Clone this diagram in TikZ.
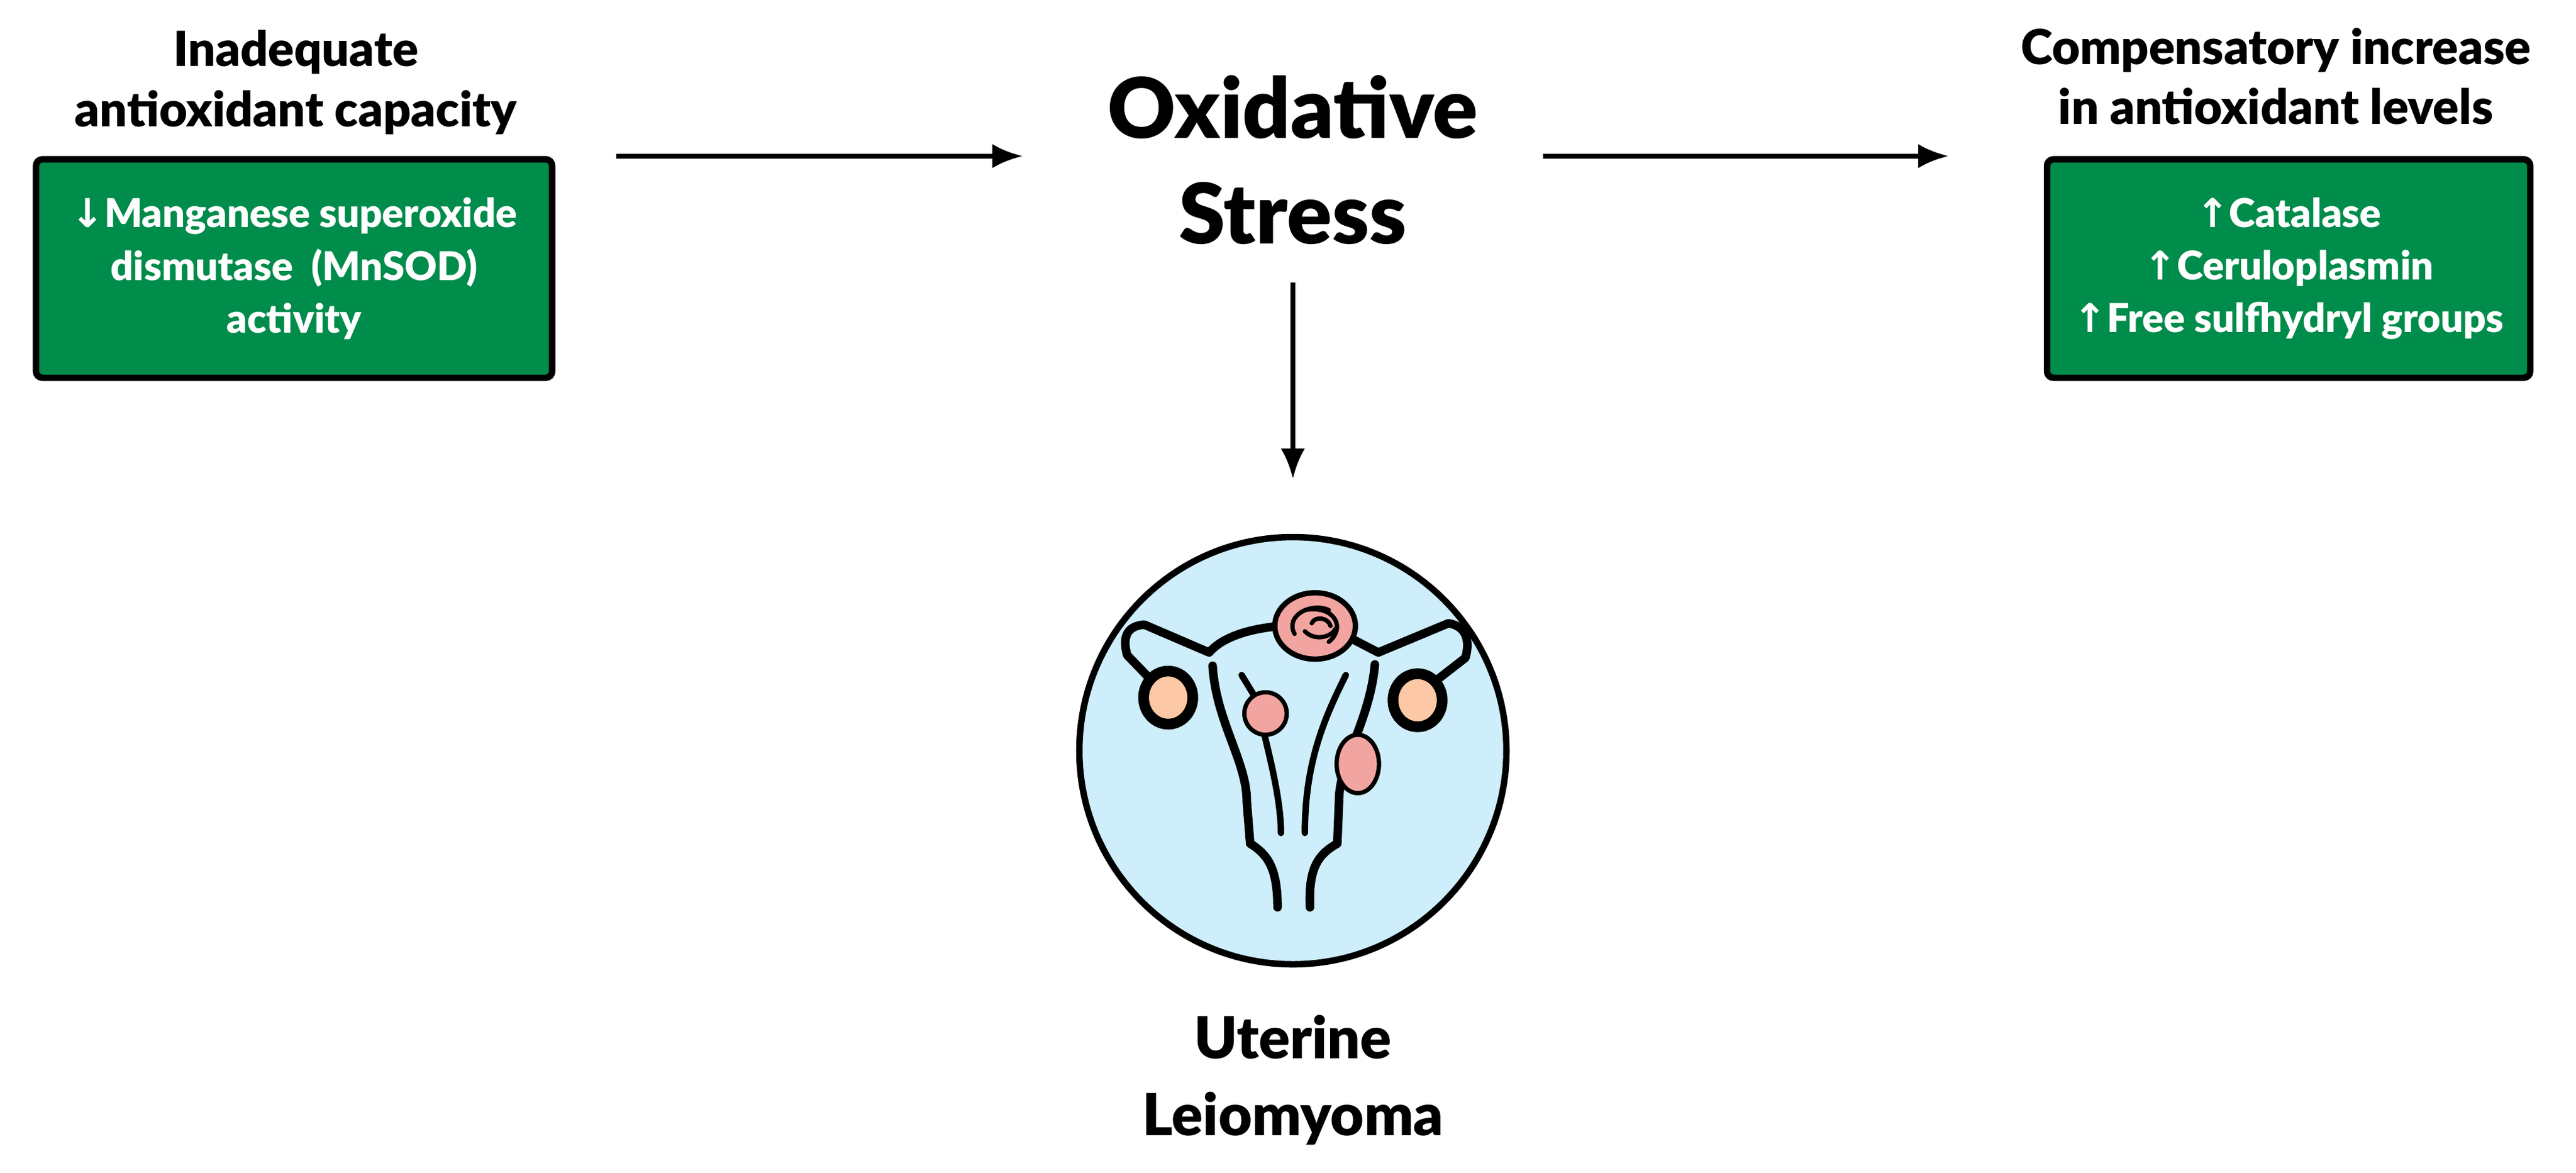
\documentclass[tikz,border=0pt]{standalone}
\usepackage{fontspec}
\setmainfont{Lato}[BoldFont={Lato Black}]
\newfontfamily\arrowfont{DejaVu Sans}
\newcommand{\dnarrow}{{\arrowfont\bfseries ↓}}
\newcommand{\uparr}{{\arrowfont\bfseries ↑}}
\usetikzlibrary{arrows.meta, positioning, calc}
\definecolor{boxGreen}{RGB}{0,140,75}
\definecolor{circleBlue}{RGB}{205,238,250}
\definecolor{fibroidPink}{RGB}{242,165,160}
\definecolor{ovaryPeach}{RGB}{252,200,165}

\begin{document}
\begin{tikzpicture}[
    x=1cm, y=1cm,
    heading/.style={font=\fontsize{22.5}{28}\selectfont\bfseries, align=center, text=black},
    greenbox/.style={draw=black, line width=3pt, fill=boxGreen, rounded corners=3pt, text=white, align=center,
        font=\fontsize{18.5}{24.5}\selectfont\bfseries, minimum width=8.46cm, minimum height=3.58cm},
    bigtitle/.style={font=\fontsize{39}{49}\selectfont\bfseries, align=center},
    flow/.style={-{Latex[length=0.5cm, width=0.4cm]}, line width=2.2pt},
    organ/.style={line width=4pt, line cap=round, line join=round},
    >=latex
]
\useasboundingbox (0,0) rectangle (42.22,-19.21);

% Left side: cause
\node[heading] (lhead) at (4.85,-1.35) {Inadequate\\antioxidant capacity};
\node[greenbox] (lbox) at (4.82,-4.4) {\dnarrow Manganese superoxide\\dismutase~~(MnSOD)\\activity};

% Centre
\node[bigtitle] (ox) at (21.19,-2.62) {Oxidative\\Stress};

% Right side: response
\node[heading] (rhead) at (37.3,-1.25) {Compensatory increase\\in antioxidant levels};
\node[greenbox, minimum width=7.92cm] (rbox) at (37.51,-4.4) {\uparr Catalase\\\uparr Ceruloplasmin\\\uparr Free sulfhydryl groups};

% Uterus badge
\node[circle, draw=black, line width=3pt, fill=circleBlue, minimum size=7cm] (ut) at (21.19,-12.3) {};
\node[heading, font=\fontsize{27}{36}\selectfont\bfseries, below=0.65cm of ut] (utlabel) {Uterine\\Leiomyoma};

\begin{scope}[shift={(ut.center)}, x=0.0056cm, y=-0.00435cm, shift={(-725,-910)}]
  % horns and tubes
  \draw[organ] (690,440) .. controls (600,450) and (520,480) .. (480,540)
      -- (290,435) .. controls (240,440) and (225,480) .. (240,550) -- (300,630);
  \draw[organ] (900,490) -- (975,540) -- (1180,430) .. controls (1230,440) and (1245,490) .. (1230,560) -- (1150,640);
  % ovaries
  \draw[line width=5pt, fill=ovaryPeach] (360,710) ellipse (72 and 100);
  \draw[line width=5pt, fill=ovaryPeach] (1090,720) ellipse (72 and 100);
  % body
  \draw[organ] (490,590) .. controls (500,800) and (590,950) .. (590,1100) -- (600,1260) .. controls (650,1300) and (680,1350) .. (680,1500);
  \draw[organ] (965,585) .. controls (950,800) and (860,950) .. (860,1100) -- (855,1260) .. controls (800,1300) and (770,1350) .. (775,1500);
  \draw[organ, line width=3pt] (575,625) -- (620,720);
  \draw[organ, line width=3pt] (640,840) .. controls (660,950) and (690,1100) .. (690,1220);
  \draw[organ, line width=3pt] (880,625) .. controls (820,780) and (760,950) .. (760,1220);
  % fibroids
  \draw[line width=2pt, fill=fibroidPink] (645,770) ellipse (62 and 80);
  \draw[line width=2pt, fill=fibroidPink] (915,960) ellipse (62 and 110);
  \draw[line width=2.5pt, fill=fibroidPink] (790,440) ellipse (118 and 125);
  \draw[line width=2pt, line cap=round] (760,380) .. controls (850,360) and (880,450) .. (830,500)
      (730,470) .. controls (700,400) and (780,350) .. (830,380)
      (780,430) .. controls (790,400) and (830,410) .. (835,440)
      (760,460) .. controls (790,500) and (840,480) .. (850,450);
\end{scope}

% Connectors
\draw[flow, shorten <=1cm, shorten >=1.27cm] (lbox.north east) -- (ox.west |- lbox.north);
\draw[flow, shorten <=0.94cm, shorten >=1.56cm] (ox.east |- rbox.north) -- (rbox.north west);
\draw[flow, shorten <=0.5cm, shorten >=0.9cm] (ox.south) -- (ut.north);
\end{tikzpicture}
\end{document}
